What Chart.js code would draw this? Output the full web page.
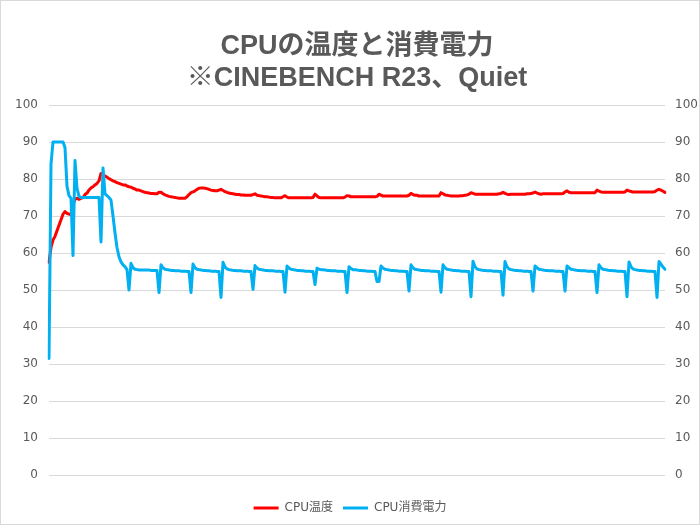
<!DOCTYPE html>
<html><head><meta charset="utf-8">
<script src="https://cdn.jsdelivr.net/npm/chart.js@4/dist/chart.umd.min.js"></script>
<style>html,body{margin:0;padding:0;background:#fff}canvas{display:block}</style>
</head><body>
<canvas id="c" width="700" height="525"></canvas>
<script>
const titleLines = ['CPUの温度と消費電力', '※CINEBENCH R23、Quiet'];
const seriesNames = ['CPU温度', 'CPU消費電力'];
const yMin = 0, yMax = 100, yStep = 10;

const cpuTemp = [
57.5,61.5,63.5,64.5,66,67.5,69,70.5,71.2,70.7,
70.5,70.5,73,74.5,74.8,74.5,74.8,75,75.8,76.2,
77,77.6,77.9,78.4,78.8,79.5,81.5,81.2,80.8,80.5,
80.1,79.8,79.5,79.3,79.0,78.8,78.6,78.4,78.4,78.1,
77.9,77.8,77.5,77.3,77.0,77.0,76.8,76.6,76.4,76.3,
76.2,76.1,76.1,76.0,76.0,76.4,76.4,76.0,75.7,75.5,
75.3,75.2,75.1,75.0,74.9,74.8,74.8,74.8,74.8,75.2,
75.8,76.3,76.5,76.8,77.2,77.5,77.6,77.6,77.5,77.4,
77.2,77.0,76.9,76.8,76.8,77.0,77.2,76.9,76.6,76.4,
76.2,76.1,76.0,75.9,75.8,75.8,75.7,75.7,75.6,75.6,
75.6,75.6,75.8,76.0,75.6,75.5,75.4,75.3,75.2,75.2,
75.1,75.0,75.0,74.9,74.9,74.9,74.9,75.2,75.5,75.1,
74.9,74.9,74.9,74.9,74.9,74.9,74.9,74.9,74.9,74.9,
74.9,74.9,75.0,75.9,75.4,75.0,74.9,74.9,74.9,74.9,
74.9,74.9,74.9,74.9,74.9,74.9,74.9,74.9,75.1,75.5,
75.4,75.2,75.2,75.2,75.2,75.2,75.2,75.2,75.2,75.2,
75.2,75.2,75.2,75.2,75.3,75.9,75.6,75.4,75.4,75.4,
75.4,75.4,75.4,75.4,75.4,75.4,75.4,75.4,75.4,75.4,
75.6,76.1,75.8,75.6,75.6,75.4,75.4,75.4,75.4,75.4,
75.4,75.4,75.4,75.4,75.4,75.4,76.3,76.0,75.7,75.6,
75.5,75.4,75.4,75.4,75.4,75.4,75.5,75.5,75.6,75.7,
75.9,76.3,76.1,75.9,75.9,75.9,75.9,75.9,75.9,75.9,
75.9,75.9,75.9,75.9,75.9,76.0,76.1,76.4,76.1,75.9,
75.8,75.9,75.9,75.9,75.9,75.9,75.9,75.9,75.9,76.0,
76.0,76.1,76.2,76.5,76.2,76.0,75.9,76.0,76.0,76.0,
76.0,76.0,76.0,76.0,76.0,76.0,76.0,76.1,76.5,76.8,
76.4,76.3,76.3,76.3,76.3,76.3,76.3,76.3,76.3,76.3,
76.3,76.3,76.3,76.3,77.0,76.7,76.5,76.4,76.4,76.4,
76.4,76.4,76.4,76.4,76.4,76.4,76.4,76.4,76.5,77.0,
76.8,76.6,76.5,76.5,76.5,76.5,76.5,76.5,76.5,76.5,
76.5,76.5,76.5,76.6,77.0,77.2,77.0,76.7,76.4
];

const cpuPower = [
31.5,84,90,90,90,90,90,90,88.5,78,75.5,74.8,59.3,85,77.5,75.3,
75,75,75,75,75,75,75,75,75,75,
63,83,76,75.5,75,74.3,70,65.4,61.5,59,57.6,56.8,56.3,55.5,50,57.2,56.0,55.6,
55.5,55.4,55.4,55.4,55.4,55.4,55.4,55.3,55.3,55.3,55.3,
49.3,56.8,56.0,55.6,
55.5,55.4,55.3,55.3,55.2,55.2,55.2,55.1,55.1,55.1,55.0,55.0,
49.3,57.0,56.0,55.6,
55.5,55.4,55.3,55.3,55.2,55.2,55.1,55.1,55.1,55.0,55.0,
48.0,57.5,56.2,55.7,
55.5,55.4,55.3,55.3,55.2,55.2,55.2,55.1,55.1,55.1,55.0,55.0,
50.2,56.6,55.9,55.6,
55.5,55.4,55.3,55.3,55.2,55.2,55.2,55.1,55.1,55.1,55.0,55.0,
49.4,56.5,55.9,55.6,
55.5,55.4,55.3,55.3,55.2,55.2,55.1,55.1,55.1,55.0,55.0,
51.5,55.9,55.6,55.5,
55.5,55.4,55.3,55.3,55.2,55.2,55.2,55.1,55.1,55.1,55.0,55.0,
49.3,56.3,55.8,55.5,
55.5,55.4,55.3,55.3,55.2,55.2,55.1,55.1,55.1,55.0,55.0,
52.3,52.3,56.5,55.9,55.6,
55.5,55.4,55.3,55.3,55.2,55.2,55.1,55.1,55.1,55.0,55.0,
49.7,56.8,56.0,55.6,
55.5,55.4,55.3,55.3,55.2,55.2,55.2,55.1,55.1,55.1,55.0,55.0,
49.4,56.8,56.0,55.6,
55.5,55.4,55.3,55.3,55.2,55.2,55.1,55.1,55.1,55.0,55.0,
48.2,57.8,56.3,55.7,
55.5,55.4,55.3,55.3,55.2,55.2,55.2,55.1,55.1,55.1,55.0,55.0,
48.6,57.7,56.3,55.7,
55.5,55.4,55.3,55.3,55.2,55.2,55.1,55.1,55.1,55.0,55.0,
49.7,56.5,56.0,55.6,
55.5,55.4,55.3,55.3,55.2,55.2,55.2,55.1,55.1,55.1,55.0,55.0,
49.7,56.5,56.0,55.6,
55.5,55.4,55.3,55.3,55.2,55.2,55.2,55.1,55.1,55.1,55.0,55.0,
49.3,56.8,56.0,55.6,
55.5,55.4,55.3,55.3,55.2,55.2,55.1,55.1,55.1,55.0,55.0,
48.2,57.6,56.3,55.7,
55.5,55.4,55.3,55.3,55.2,55.2,55.1,55.1,55.1,55.0,55.0,
48.0,57.7,57.0,56.2,55.6
];

if (cpuTemp.length !== cpuPower.length) throw new Error('length mismatch ' + cpuTemp.length + ' ' + cpuPower.length);
const labels = cpuTemp.map((_, i) => String(i + 1));

const FONT = "'DejaVu Sans', 'Noto Sans CJK JP', sans-serif";
const TITLE_FONT = "'Liberation Sans', 'Noto Sans CJK JP', sans-serif";
const TEXT = '#595959';

const bgPlugin = {
  id: 'bg',
  beforeDraw(chart) {
    const c = chart.ctx;
    c.save();
    c.fillStyle = '#fff';
    c.fillRect(0, 0, chart.width, chart.height);
    c.restore();
  },
  afterDraw(chart) {
    const c = chart.ctx;
    c.save();
    c.strokeStyle = '#d9d9d9';
    c.lineWidth = 1;
    c.strokeRect(0.5, 0.5, chart.width - 1, chart.height - 1);
    c.restore();
  }
};

new Chart(document.getElementById('c'), {
  type: 'line',
  data: {
    labels: labels,
    datasets: [
      { label: seriesNames[0], data: cpuTemp, borderColor: '#ff0000', backgroundColor: '#ff0000',
        borderWidth: 3, pointRadius: 0, tension: 0, fill: false, yAxisID: 'y', order: 1,
        borderJoinStyle: 'round', borderCapStyle: 'round' },
      { label: seriesNames[1], data: cpuPower, borderColor: '#00b0f0', backgroundColor: '#00b0f0',
        borderWidth: 3, pointRadius: 0, tension: 0, fill: false, yAxisID: 'y', order: 0,
        borderJoinStyle: 'round', borderCapStyle: 'round' }
    ]
  },
  options: {
    responsive: false,
    animation: false,
    events: [],
    layout: { padding: { left: 0, right: 0, top: 0, bottom: 1 } },
    plugins: {
      tooltip: { enabled: false },
      title: {
        display: true, text: titleLines, fullSize: false, color: TEXT,
        font: { family: TITLE_FONT, size: 27, weight: 'bold', lineHeight: 32/27 },
        padding: { top: 31, bottom: 10 }
      },
      legend: {
        position: 'bottom',
        labels: {
          color: TEXT, font: { family: FONT, size: 12 },
          usePointStyle: true, pointStyle: 'line', pointStyleWidth: 25, padding: 10,
          sort: (a, b) => a.datasetIndex - b.datasetIndex
        }
      }
    },
    scales: {
      x: {
        type: 'category', display: true,
        grid: { display: false, drawTicks: false }, border: { display: false },
        ticks: { display: false },
        afterFit(s) { s.height = 17; }
      },
      y: {
        position: 'left', min: yMin, max: yMax,
        ticks: { stepSize: yStep, color: TEXT, font: { family: FONT, size: 12 }, padding: 11 },
        grid: { color: '#d9d9d9', lineWidth: 1, drawTicks: false },
        border: { display: false },
        afterFit(s) { s.width = 49; }
      },
      y1: {
        position: 'right', min: yMin, max: yMax,
        ticks: { stepSize: yStep, color: TEXT, font: { family: FONT, size: 12 }, padding: 10 },
        grid: { drawOnChartArea: false, drawTicks: false },
        border: { display: false },
        afterFit(s) { s.width = 35; }
      }
    }
  },
  plugins: [bgPlugin]
});
</script>
</body></html>
